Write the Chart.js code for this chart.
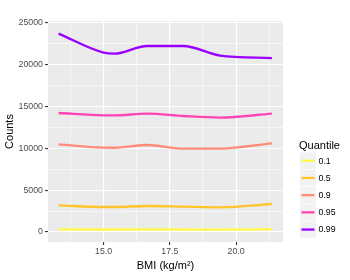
<!DOCTYPE html>
<html><head><meta charset="utf-8">
<script src="https://cdn.jsdelivr.net/npm/chart.js@4"></script>
<style>html,body{margin:0;padding:0;background:#fff}#wrap{width:350px;height:280px}</style>
</head><body><div id="wrap"><canvas id="c" width="350" height="280"></canvas></div>
<script>
const bmi = [13.3, 15.0, 15.4, 16.64, 18.0, 19.4, 21.35];
const q01 = [320, 300, 300, 310, 300, 290, 330];
const q05 = [3193, 2990, 2990, 3110, 3040, 2954, 3349];
const q09 = [10489, 10094, 10080, 10405, 9975, 9975, 10609];
const q095 = [14232, 13957, 13950, 14161, 13874, 13683, 14161];
const q099 = [23732, 21460, 21340, 22250, 22250, 21100, 20810];
const quantileLabels = ['0.1', '0.5', '0.9', '0.95', '0.99'];
const seriesValues = [q01, q05, q09, q095, q099];
const colors = ['#FFF94A', '#FFC52A', '#FF8C78', '#FF45B5', '#9A00FF'];
const xTicks = [15, 17.5, 20];
const yTicks = [0, 5000, 10000, 15000, 20000, 25000];
const xTitle = 'BMI (kg/m\u00B2)';
const yTitle = 'Counts';
const legendTitle = 'Quantile';

const FONT = "'Liberation Sans', Arial, sans-serif";

function withMinor(major, lo, hi) {
  const step = major[1] - major[0];
  const out = [];
  let v = major[0] - step;
  while (v <= hi + 1e-9) {
    if (v >= lo) out.push({value: v, major: true});
    const m = v + step / 2;
    if (m >= lo && m <= hi) out.push({value: m, major: false});
    v += step;
  }
  return out.sort((a, b) => a.value - b.value);
}

const datasets = seriesValues.map((vals, i) => ({
  label: quantileLabels[i],
  data: bmi.map((x, j) => ({x: x, y: vals[j]})),
  borderColor: colors[i],
  backgroundColor: colors[i],
  borderWidth: 2.3,
  pointRadius: 0,
  cubicInterpolationMode: 'monotone',
  fill: false
}));

const panelBg = {
  id: 'panelBg',
  beforeDraw(chart) {
    const {ctx, chartArea: a} = chart;
    ctx.save();
    ctx.fillStyle = '#EBEBEB';
    ctx.fillRect(a.left, a.top, a.right - a.left, a.bottom - a.top);
    ctx.restore();
  }
};

const customLegend = {
  id: 'customLegend',
  afterDraw(chart) {
    const ctx = chart.ctx;
    ctx.save();
    ctx.fillStyle = '#000';
    ctx.font = '11px ' + FONT;
    ctx.textBaseline = 'middle';
    ctx.textAlign = 'left';
    ctx.fillText(legendTitle, 299, 146);
    const x0 = 300, w = 16, h = 16.5, step = 17.2, y0 = 152.5;
    chart.data.datasets.forEach((ds, i) => {
      const y = y0 + i * step;
      ctx.fillStyle = '#F2F2F2';
      ctx.fillRect(x0, y, w, h);
      ctx.strokeStyle = ds.borderColor;
      ctx.lineWidth = 2.3;
      ctx.beginPath();
      ctx.moveTo(x0 + 1.5, y + h / 2);
      ctx.lineTo(x0 + w - 1.5, y + h / 2);
      ctx.stroke();
      ctx.fillStyle = '#000';
      ctx.font = '8.8px ' + FONT;
      ctx.fillText(ds.label, 318.5, y + h / 2 + 0.5);
    });
    ctx.restore();
  }
};

new Chart(document.getElementById('c'), {
  type: 'line',
  data: {datasets: datasets},
  plugins: [panelBg, customLegend],
  options: {
    responsive: false,
    animation: false,
    layout: {padding: {top: 21, right: 67, bottom: 0, left: 0}},
    plugins: {legend: {display: false}, tooltip: {enabled: false}},
    scales: {
      x: {
        type: 'linear',
        min: 12.9,
        max: 21.77,
        afterBuildTicks(s) { s.ticks = withMinor(xTicks, s.min, s.max); },
        afterFit(s) { s.height = 38; },
        border: {display: false},
        grid: {
          color: c => '#FFFFFF',
          lineWidth: c => (c.tick && c.tick.major) ? 1.1 : 0.55,
          tickColor: c => (c.tick && c.tick.major) ? '#333333' : 'rgba(0,0,0,0)',
          tickLength: 3,
          drawOnChartArea: true
        },
        ticks: {
          autoSkip: false,
          maxRotation: 0,
          padding: 1,
          color: '#4D4D4D',
          font: {family: FONT, size: 8.8},
          callback: function(v, i, t) { return t[i].major ? (Math.round(v * 10) / 10).toFixed(1) : ''; }
        },
        title: {display: true, text: xTitle, color: '#000', font: {family: FONT, size: 11}, padding: {top: 0, bottom: 7}}
      },
      y: {
        type: 'linear',
        min: -1196,
        max: 25239,
        afterBuildTicks(s) { s.ticks = withMinor(yTicks, s.min, s.max); },
        afterFit(s) { s.width = 48; },
        border: {display: false},
        grid: {
          color: c => '#FFFFFF',
          lineWidth: c => (c.tick && c.tick.major) ? 1.1 : 0.55,
          tickColor: c => (c.tick && c.tick.major) ? '#333333' : 'rgba(0,0,0,0)',
          tickLength: 3
        },
        ticks: {
          autoSkip: false,
          padding: 2,
          color: '#4D4D4D',
          font: {family: FONT, size: 8.8},
          callback: function(v, i, t) { return t[i].major ? String(Math.round(v)) : ''; }
        },
        title: {display: true, text: yTitle, color: '#000', font: {family: FONT, size: 11}, padding: {top: 3, bottom: 0}}
      }
    }
  }
});
</script></body></html>
